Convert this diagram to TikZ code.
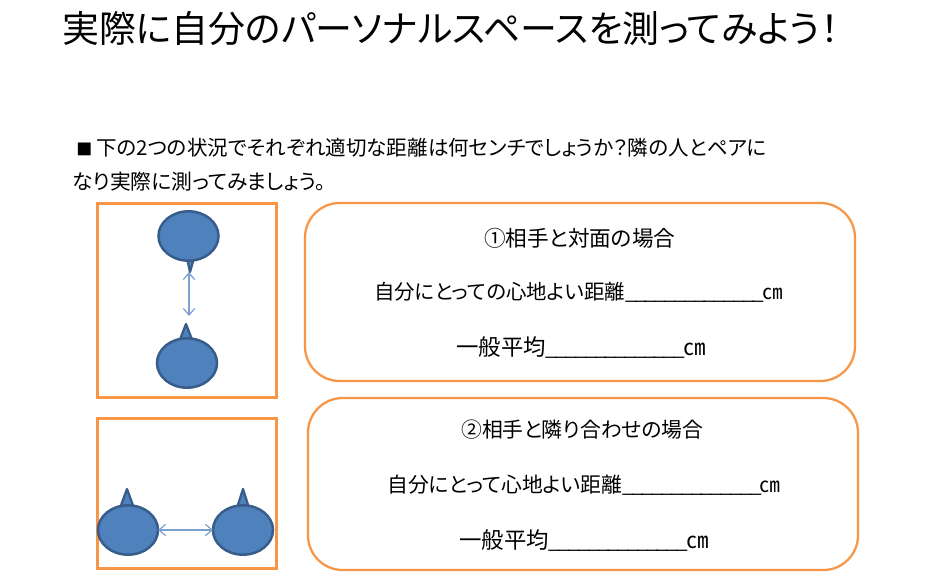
\documentclass[tikz,border=0pt]{standalone}
\usepackage{fontspec}
\setmainfont{Noto Sans CJK JP}[RawFeature=+palt]
\usetikzlibrary{arrows.meta,shapes.geometric}
\definecolor{orangeline}{HTML}{F79646}
\definecolor{bluefill}{HTML}{4F81BD}
\definecolor{blueedge}{HTML}{385D8A}
\tikzset{
  x=0.75pt,y=-0.75pt,
  framebox/.style={draw=orangeline,line width=1.9pt,fill=white,inner sep=0pt,minimum width=134.25pt,anchor=north west},
  roundbox/.style={draw=orangeline,line width=1.7pt,fill=white,rounded corners=26pt,inner sep=0pt,outer sep=0pt,minimum width=412.5pt,anchor=north west},
  head/.style={ellipse,draw=blueedge,fill=bluefill,line width=1.9pt,outer sep=0pt,minimum width=45pt,minimum height=37pt,inner sep=0pt},
  nose/.style={draw=blueedge,fill=bluefill,line width=1.7pt,line join=round},
  gap/.style={draw=bluefill!75!white,line width=0.9pt,{Straight Barb[length=5pt,width=8.5pt]}-{Straight Barb[length=5pt,width=8.5pt]}},
  titletext/.style={anchor=west,inner sep=0pt,font=\fontsize{27.7pt}{32pt}\selectfont},
  bodytext/.style={anchor=west,inner sep=0pt,font=\fontsize{15.6pt}{19pt}\selectfont},
  tight/.style={font=\fontsize{15.35pt}{19pt}\selectfont},
  wide/.style={font=\fontsize{16.2pt}{19pt}\selectfont},
  kanji/.style={font=\fontsize{16.8pt}{19pt}\selectfont},
}
\newcommand{\onebar}{\_\kern-1.35pt}
\newcommand{\blank}{{\fontsize{15.6pt}{19pt}\selectfont\onebar\onebar\onebar\onebar\onebar\onebar\onebar\onebar\onebar\onebar\onebar\onebar\onebar\onebar}}
\begin{document}
\begin{tikzpicture}
\useasboundingbox (0,0) rectangle (946,583);
\fill[white] (0,0) rectangle (946,583);

\node[titletext] (title) at (62,29) {実際に自分のパーソナルスペースを測ってみよう！};
\node[bodytext] (q1) at (76,148) {\makebox[15pt][l]{\fontsize{12pt}{19pt}\selectfont ■}{\fontsize{15.4pt}{19pt}\selectfont 下の2つの状況でそれぞれ適切な距離は何センチでしょうか？隣の人とペアに}};
\node[bodytext] (q2) at (72,182) {なり実際に測ってみましょう。};

\node[framebox,minimum height=145.5pt] (f1) at (96,202) {};
\node[framebox,minimum height=112.5pt] (f2) at (96,417) {};

% Top frame
\coordinate (n1) at (190,272);
\coordinate (n2) at (186,324);
\draw[nose] (187,258) -- (n1) -- (194,258) -- cycle;
\draw[nose] (179,342) -- (n2) -- (193,342) -- cycle;
\node[head] (p1) at (188.5,236) {};
\node[head] (p2) at (187,363) {};
\coordinate (a1) at (189,272);
\coordinate (a2) at (189,316);
\draw[gap] (a1) -- (a2);

% Bottom frame
\coordinate (n3) at (127,489);
\coordinate (n4) at (243,489);
\draw[nose] (120,508) -- (n3) -- (134,508) -- cycle;
\draw[nose] (237,508) -- (n4) -- (249,508) -- cycle;
\node[head] (p3) at (128,530) {};
\node[head] (p4) at (243,530) {};
\draw[gap] (p3) -- (p4);

\node[roundbox,minimum height=133.5pt] (r1) at (305,203) {};
\node[roundbox,minimum height=129pt] (r2) at (308,398) {};

\node[bodytext,wide] (t11) at (484,238) {①相手と対面の場合};
\node[bodytext,tight] (t12) at (374,292) {自分にとっての心地よい距離\blank ㎝};
\node[bodytext,kanji] (t13) at (456,348) {一般平均\blank ㎝};
\node[bodytext] (t21) at (461,430) {②相手と隣り合わせの場合};
\node[bodytext] (t22) at (387,485) {自分にとって心地よい距離\blank ㎝};
\node[bodytext,kanji] (t23) at (459,541) {一般平均\blank ㎝};
\end{tikzpicture}
\end{document}
